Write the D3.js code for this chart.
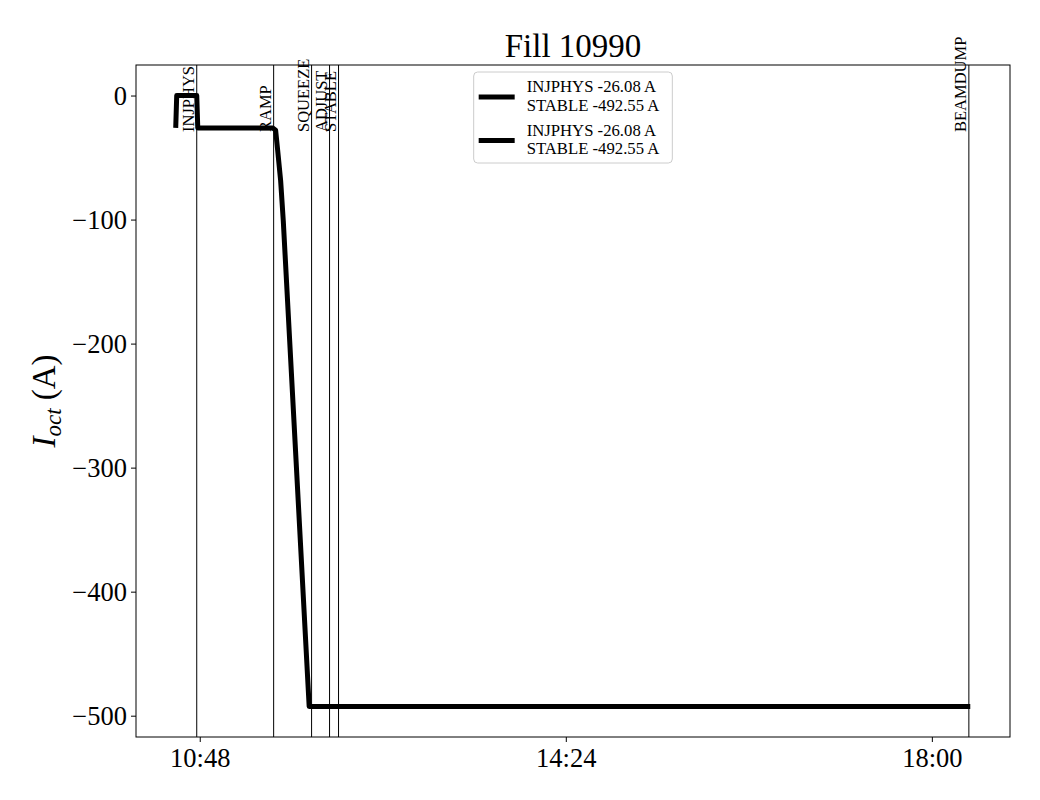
<!DOCTYPE html>
<html>
<head>
<meta charset="utf-8">
<script src="https://d3js.org/d3.v7.min.js"></script>
<style>
  body { margin: 0; background: #fff; }
  svg { font-family: "Liberation Serif", "Times New Roman", serif; }
</style>
</head>
<body>
<svg width="1040" height="800"></svg>
<script>
// octupole current during the fill
var times = ["10:33:50", "10:34:25", "10:46:14", "10:46:50", "11:31:01", "11:32:47",
             "11:33:58", "11:35:44", "11:37:18", "11:52:34", "18:22:40"];
var current = [-26.08, 0, 0, -26.08, -26.08, -28, -44, -68.5, -101, -492.55, -492.55];

// beam modes
var modeNames = ["INJPHYS", "RAMP", "SQUEEZE", "ADJUST", "STABLE", "BEAMDUMP"];
var modeTimes = ["10:46:14", "11:31:37", "11:54:00", "12:04:36", "12:09:54", "18:21:50"];

var xTickTimes = ["10:48", "14:24", "18:00"];
var yTicks = [0, -100, -200, -300, -400, -500];

var legendLabels = [["INJPHYS -26.08 A", "STABLE -492.55 A"],
                    ["INJPHYS -26.08 A", "STABLE -492.55 A"]];

var title = "Fill 10990";

var svg = d3.select("svg"),
    margin = {top: 65, right: 30, bottom: 63, left: 136},
    width = +svg.attr("width") - margin.left - margin.right,
    height = +svg.attr("height") - margin.top - margin.bottom;

var parseT = d3.timeParse("%H:%M:%S"),
    parseHM = d3.timeParse("%H:%M");

var data = times.map(function(t, i) { return {t: parseT(t), v: current[i]}; });

// matplotlib-like 5% margins
var tExt = d3.extent(data, function(d) { return d.t; });
var tPad = (tExt[1] - tExt[0]) * 0.05;
var vExt = d3.extent(data, function(d) { return d.v; });
var vPad = (vExt[1] - vExt[0]) * 0.05;

var x = d3.scaleTime()
    .domain([new Date(+tExt[0] - tPad), new Date(+tExt[1] + tPad)])
    .range([0, width]);
var y = d3.scaleLinear()
    .domain([vExt[0] - vPad, vExt[1] + vPad])
    .range([height, 0]);

var g = svg.append("g").attr("transform", "translate(" + margin.left + "," + margin.top + ")");

// axes
var xAxis = g.append("g")
    .attr("transform", "translate(0," + height + ")")
    .call(d3.axisBottom(x)
        .tickValues(xTickTimes.map(parseHM))
        .tickFormat(d3.timeFormat("%H:%M"))
        .tickSize(5).tickPadding(6).tickSizeOuter(0));
var yAxis = g.append("g")
    .call(d3.axisLeft(y)
        .tickValues(yTicks)
        .tickSize(5).tickPadding(4).tickSizeOuter(0));

[xAxis, yAxis].forEach(function(a) {
    a.select(".domain").remove();
    a.selectAll("line").attr("stroke", "#000").attr("stroke-width", 1);
    a.selectAll("text")
        .style("font-family", "Liberation Serif, serif")
        .style("font-size", "26.5px")
        .attr("fill", "#000");
});

// frame
g.append("rect")
    .attr("x", 0).attr("y", 0)
    .attr("width", width).attr("height", height)
    .attr("fill", "none").attr("stroke", "#000").attr("stroke-width", 1);

// mode lines + labels
var modes = g.selectAll(".mode")
    .data(modeNames.map(function(m, i) { return {name: m, t: parseT(modeTimes[i])}; }))
    .enter().append("g")
    .attr("class", "mode");

modes.append("line")
    .attr("x1", function(d) { return x(d.t); })
    .attr("x2", function(d) { return x(d.t); })
    .attr("y1", 0).attr("y2", height)
    .attr("stroke", "#000").attr("stroke-width", 1);

modes.append("text")
    .attr("transform", function(d) { return "translate(" + (x(d.t) - 3) + "," + 67 + ") rotate(-90)"; })
    .attr("text-anchor", "start")
    .style("font-size", "16.5px")
    .text(function(d) { return d.name; });

// current line
var line = d3.line()
    .x(function(d) { return x(d.t); })
    .y(function(d) { return y(d.v); });

g.append("path")
    .datum(data)
    .attr("fill", "none")
    .attr("stroke", "#000")
    .attr("stroke-width", 5)
    .attr("stroke-linejoin", "round")
    .attr("d", line);

// title
svg.append("text")
    .attr("x", margin.left + width / 2)
    .attr("y", 57)
    .attr("text-anchor", "middle")
    .style("font-size", "33px")
    .text(title);

// y label
var ylab = svg.append("text")
    .attr("transform", "translate(55," + (margin.top + height / 2) + ") rotate(-90)")
    .attr("text-anchor", "middle")
    .style("font-size", "33px");
ylab.append("tspan").style("font-style", "italic").text("I");
ylab.append("tspan").style("font-style", "italic").style("font-size", "23px").attr("dy", "6").text("oct");
ylab.append("tspan").attr("dy", "-6").text(" (A)");

// legend, upper center
var leg = g.append("g");
var legBox = leg.append("rect")
    .attr("fill", "#fff").attr("fill-opacity", 0.8)
    .attr("stroke", "#ccc").attr("rx", 4).attr("ry", 4);

var entries = leg.selectAll(".entry")
    .data(legendLabels)
    .enter().append("g")
    .attr("class", "entry")
    .attr("transform", function(d, i) { return "translate(0," + (i * 43.5) + ")"; });

entries.append("line")
    .attr("x1", 5).attr("x2", 41)
    .attr("y1", 32).attr("y2", 32)
    .attr("stroke", "#000").attr("stroke-width", 5);

entries.selectAll("text")
    .data(function(d) { return d; })
    .enter().append("text")
    .attr("x", 53)
    .attr("y", function(d, i) { return 27 + i * 18.5; })
    .style("font-size", "16.7px")
    .text(function(d) { return d; });

var maxW = 0;
entries.selectAll("text").each(function() { maxW = Math.max(maxW, this.getComputedTextLength()); });
var legW = 53 + maxW + 13, legH = 91;
legBox.attr("x", 0).attr("y", 7).attr("width", legW).attr("height", legH);
leg.attr("transform", "translate(" + (width / 2 - legW / 2) + ",0)");
</script>
</body>
</html>
